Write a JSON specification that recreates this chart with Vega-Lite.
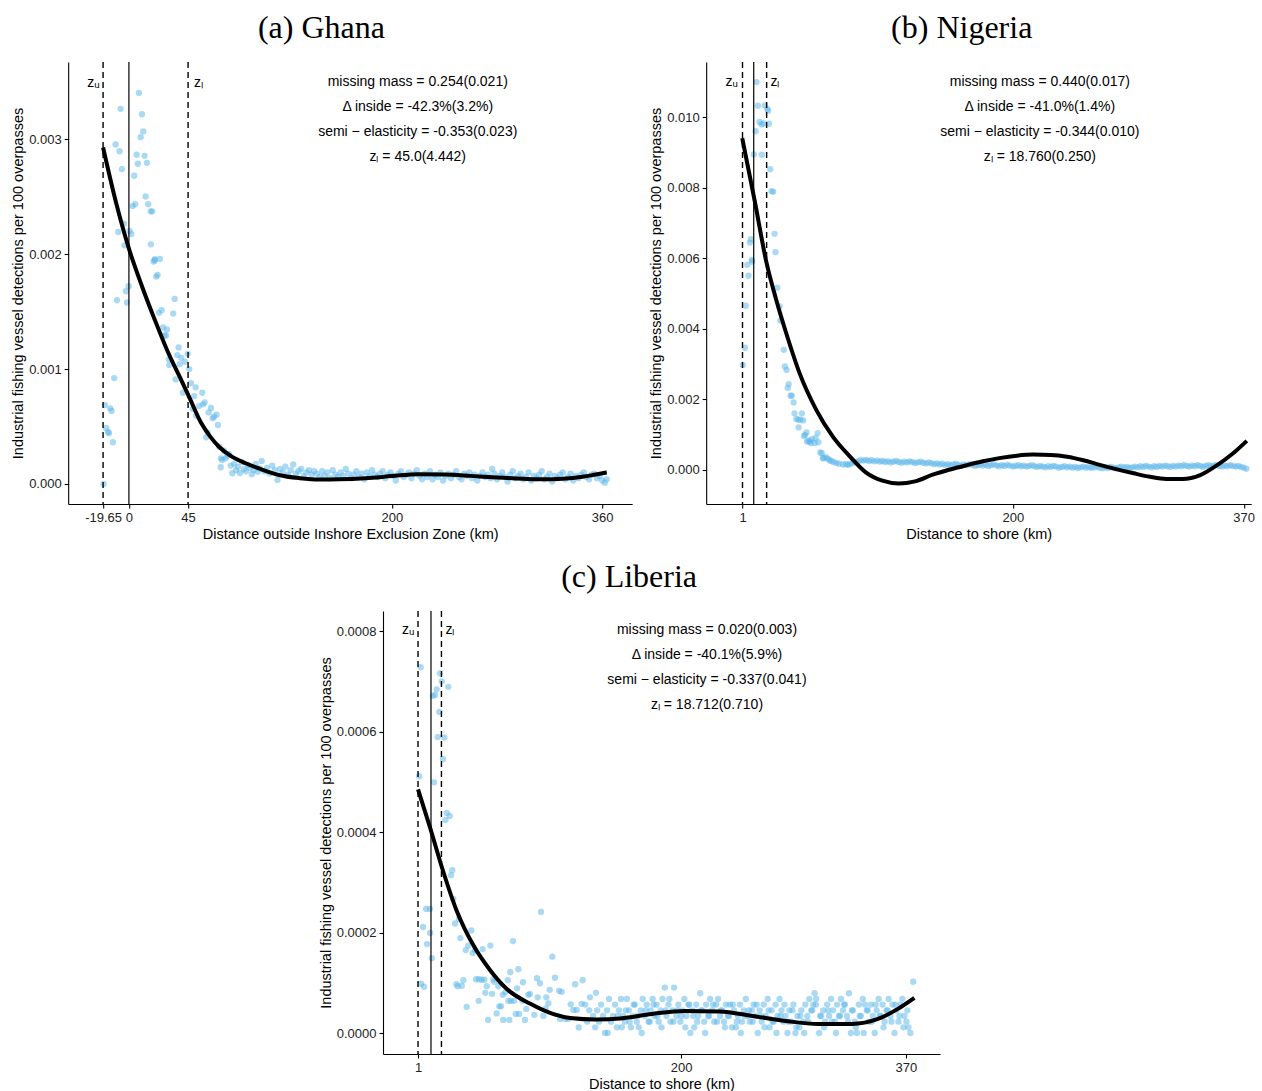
{
  "$schema": "https://vega.github.io/schema/vega-lite/v6.json",
  "background": "white",
  "padding": {"left": 10, "top": 12, "right": 4, "bottom": 2},
  "config": {
    "view": {"stroke": null},
    "font": "Liberation Sans",
    "axis": {"grid": false, "domainColor": "black", "domainWidth": 1.1, "tickColor": "black", "tickWidth": 1.1, "tickSize": 4, "labelFont": "Liberation Sans", "labelFontSize": 13, "labelColor": "#222222", "labelPadding": 3, "titleFont": "Liberation Sans", "titleFontSize": 14.5, "titleFontWeight": "normal", "titleColor": "black", "labelOverlap": false, "labelFlush": false},
    "axisX": {"titlePadding": 3},
    "axisY": {"titlePadding": 3},
    "title": {"font": "Liberation Serif", "fontSize": 32, "fontWeight": "normal", "color": "black", "anchor": "middle", "frame": "bounds", "offset": 16}
  },
  "datasets": {
    "ghanaPts": [
      {"km":-19.3,"rate":0},{"km":-18.3,"rate":0.000687},{"km":-17.3,"rate":0.000487},{"km":-15.8,"rate":0.000452},{"km":-15.2,"rate":0.000441},{"km":-14.2,"rate":0.000658},{"km":-13.2,"rate":0.000635},{"km":-12.2,"rate":0.000363},{"km":-11.2,"rate":0.000922},{"km":-10.1,"rate":0.002957},{"km":-9.1,"rate":0.0016},{"km":-8.1,"rate":0.002194},{"km":-7.1,"rate":0.002898},{"km":-6.3,"rate":0.003267},{"km":-5.3,"rate":0.002742},{"km":-3.8,"rate":0.002267},{"km":-3.3,"rate":0.002078},{"km":-2.3,"rate":0.001678},{"km":-1.5,"rate":0.00158},{"km":-0.2,"rate":0.001722},
      {"km":0.5,"rate":0.002203},{"km":1.8,"rate":0.002177},{"km":2.8,"rate":0.00242},{"km":4.0,"rate":0.002684},{"km":4.8,"rate":0.002437},{"km":5.9,"rate":0.002867},{"km":6.8,"rate":0.002789},{"km":7.6,"rate":0.003406},{"km":8.9,"rate":0.00302},{"km":9.9,"rate":0.00322},{"km":10.9,"rate":0.00307},{"km":11.9,"rate":0.002858},{"km":12.7,"rate":0.002504},{"km":13.7,"rate":0.002797},{"km":14.7,"rate":0.002437},{"km":16.5,"rate":0.002374},{"km":16.7,"rate":0.002087},{"km":17.7,"rate":0.002374},{"km":18.8,"rate":0.001937},{"km":19.6,"rate":0.001948},
      {"km":19.8,"rate":0.001957},{"km":20.8,"rate":0.001806},{"km":21.8,"rate":0.00182},{"km":22.8,"rate":0.00149},{"km":23.6,"rate":0.001959},{"km":24.9,"rate":0.001513},{"km":25.9,"rate":0.001363},{"km":26.9,"rate":0.001293},{"km":28.2,"rate":0.001293},{"km":28.9,"rate":0.001345},{"km":30.4,"rate":0.001084},{"km":30.7,"rate":0.001035},{"km":33.7,"rate":0.001484},{"km":34.8,"rate":0.001611},{"km":35.5,"rate":0.00091},{"km":36.8,"rate":0.001122},{"km":37.8,"rate":0.001189},{"km":38.6,"rate":0.001043},{"km":39.8,"rate":0.001098},{"km":41.1,"rate":0.000794},
      {"km":42.6,"rate":0.001063},{"km":44.7,"rate":0.001133},{"km":45.9,"rate":0.001},{"km":47.2,"rate":0.000878},{"km":48.5,"rate":0.000652},{"km":49.7,"rate":0.000765},{"km":50.8,"rate":0.000841},{"km":51.2,"rate":0.000594},{"km":53.3,"rate":0.000678},{"km":55.8,"rate":0.000794},{"km":56.3,"rate":0.000693},{"km":57.6,"rate":0.00071},{"km":58.8,"rate":0.000406},{"km":59.9,"rate":0.000446},{"km":60.6,"rate":0.000623},{"km":62.4,"rate":0.000661},{"km":63.7,"rate":0.000571},{"km":64.7,"rate":0.000585},{"km":66.7,"rate":0.000603},{"km":67.7,"rate":0.000513},
      {"km":68.7,"rate":0.000324},{"km":69.8,"rate":0.000145},{"km":70.0,"rate":0.000223},{"km":71.0,"rate":0.000209},{"km":72.3,"rate":0.00029},{"km":73.6,"rate":0.000223},{"km":74.6,"rate":0.000243},{"km":76.1,"rate":0.000261},{"km":77.4,"rate":0.00016},{"km":78.6,"rate":0.000093},
      {"km":80,"rate":0.000175},{"km":81.5,"rate":0.00012},{"km":83,"rate":0.00015},{"km":84.5,"rate":0.000095},{"km":86,"rate":0.00019},{"km":87.5,"rate":0.00013},{"km":89,"rate":0.00011},{"km":90.5,"rate":0.000165},{"km":92,"rate":0.00014},{"km":93.5,"rate":0.000085},{"km":95,"rate":0.00012},{"km":96.5,"rate":0.000175},{"km":98,"rate":0.000105},{"km":99.5,"rate":0.000135},
      {"km":101,"rate":0.0002},{"km":103,"rate":0.00011},{"km":105,"rate":0.00014},{"km":107,"rate":0.00009},{"km":109,"rate":0.00016},{"km":111,"rate":0.00012},{"km":113,"rate":0.000035},{"km":115,"rate":0.00013},{"km":117,"rate":0.0001},{"km":119,"rate":0.00015},{"km":121,"rate":0.00008},{"km":123,"rate":0.00012},{"km":125,"rate":0.00017},{"km":127,"rate":0.00009},{"km":129,"rate":0.00011},{"km":131,"rate":0.00013},{"km":133,"rate":0.00007},{"km":135,"rate":0.0001},{"km":137,"rate":0.00012},{"km":139,"rate":0.00008},{"km":141,"rate":0.00011},
      {"km":143,"rate":0.00009},{"km":145,"rate":0.00006},{"km":147,"rate":0.00011},{"km":149,"rate":0.00007},{"km":151,"rate":0.0001},{"km":153,"rate":0.00005},{"km":155,"rate":0.00012},{"km":157,"rate":0.00008},{"km":159,"rate":0.00006},{"km":161,"rate":0.0001},{"km":163,"rate":0.00007},{"km":165,"rate":0.00013},{"km":167,"rate":0.00009},{"km":169,"rate":0.00005},{"km":171,"rate":0.00008},{"km":173,"rate":0.00011},{"km":175,"rate":0.00006},{"km":177,"rate":0.00009},{"km":179,"rate":0.00004},{"km":181,"rate":0.0001},
      {"km":183,"rate":0.00007},{"km":185,"rate":0.00012},{"km":187,"rate":0.00008},{"km":189,"rate":0.00006},{"km":191,"rate":0.00009},{"km":193,"rate":0.00011},{"km":195,"rate":0.00005},{"km":197,"rate":0.00008},{"km":199,"rate":0.0001},{"km":201,"rate":0.00007},{"km":203,"rate":0.00003},{"km":205,"rate":0.00009},{"km":207,"rate":0.00011},{"km":209,"rate":0.00006},{"km":211,"rate":0.00008},{"km":213,"rate":0.0001},{"km":215,"rate":0.00005},{"km":217,"rate":0.00009},{"km":219,"rate":0.00012},{"km":221,"rate":0.00007},{"km":223,"rate":0.00004},
      {"km":225,"rate":0.00009},{"km":227,"rate":0.00006},{"km":229,"rate":0.00011},{"km":231,"rate":0.00004},{"km":233,"rate":0.00008},{"km":235,"rate":0.00006},{"km":237,"rate":0.0001},{"km":239,"rate":0.00003},{"km":241,"rate":0.00007},{"km":243,"rate":0.00009},{"km":245,"rate":0.00005},{"km":247,"rate":0.00008},{"km":249,"rate":0.00011},{"km":251,"rate":0.00006},{"km":253,"rate":0.00004},{"km":255,"rate":0.00009},{"km":257,"rate":0.00007},{"km":259,"rate":0.0001},{"km":261,"rate":0.00005},{"km":263,"rate":0.00008},
      {"km":265,"rate":0.00003},{"km":267,"rate":0.00007},{"km":269,"rate":0.0001},{"km":271,"rate":0.00006},{"km":273,"rate":0.00008},{"km":275,"rate":0.00005},{"km":276.3,"rate":0.00013},{"km":278,"rate":0.00009},{"km":280,"rate":0.00004},{"km":282,"rate":0.00007},{"km":284,"rate":0.0001},{"km":286,"rate":0.00006},{"km":288,"rate":0.00002},{"km":290,"rate":0.00008},{"km":292,"rate":0.00011},{"km":294,"rate":0.00005},{"km":296,"rate":0.00007},{"km":298,"rate":0.00009},{"km":300,"rate":0.00004},{"km":302,"rate":0.00006},
      {"km":304,"rate":0.0001},{"km":306,"rate":0.00003},{"km":308,"rate":0.00007},{"km":310,"rate":0.00005},{"km":312,"rate":0.00008},{"km":314,"rate":0.00011},{"km":316,"rate":0.00004},{"km":318,"rate":0.00006},{"km":320,"rate":0.00009},{"km":322,"rate":0.00002},{"km":324,"rate":0.00007},{"km":326,"rate":0.00005},{"km":328,"rate":0.00008},{"km":330,"rate":0.0001},{"km":332,"rate":0.00004},{"km":334,"rate":0.00006},{"km":336,"rate":0.00009},{"km":338,"rate":0.00003},{"km":340,"rate":0.00007},{"km":342,"rate":0.00005},
      {"km":344,"rate":0.00008},{"km":346,"rate":0.0001},{"km":348,"rate":0.00006},{"km":350,"rate":0.00004},{"km":352,"rate":0.00008},{"km":354,"rate":0.00009},{"km":356,"rate":0.00005},{"km":358,"rate":0.00007},{"km":360,"rate":0.00003},{"km":362,"rate":0.00001},{"km":363.5,"rate":0.00004}
    ],
    "ghanaFit": [
      {"km":-19.65,"rate":0.00293},{"km":-10,"rate":0.00246},{"km":0,"rate":0.00205},{"km":10,"rate":0.00172},{"km":20,"rate":0.00142},{"km":30,"rate":0.00114},{"km":40,"rate":0.0009},{"km":45.7,"rate":0.00076},{"km":55,"rate":0.00053},{"km":62,"rate":0.00041},{"km":68.5,"rate":0.000324},{"km":78,"rate":0.00024},{"km":88.8,"rate":0.00018},{"km":100,"rate":0.00013},{"km":114,"rate":0.000078},{"km":130,"rate":0.00005},{"km":145,"rate":0.000038},{"km":160,"rate":0.00004},{"km":180,"rate":0.00005},{"km":200,"rate":0.000068},{"km":220,"rate":0.000085},{"km":240,"rate":0.000082},{"km":260,"rate":0.00007},{"km":280,"rate":0.000056},{"km":300,"rate":0.000045},{"km":315,"rate":0.00004},{"km":330,"rate":0.000045},{"km":345,"rate":0.000062},{"km":355,"rate":0.000082},{"km":363.5,"rate":0.0001}
    ],
    "ghanaCuts": [{"km":-19.65,"kind":"bound"},{"km":0,"kind":"zone"},{"km":45,"kind":"bound"}],
    "ghanaTags": [{"km":-31.7,"rate":0.003461,"label":"zᵤ"},{"km":49.5,"rate":0.003461,"label":"zₗ"}],
    "ghanaNotes": [
      {"km":219.7,"rate":0.003498,"label":"missing mass = 0.254(0.021)"},
      {"km":219.7,"rate":0.003281,"label":"Δ inside = -42.3%(3.2%)"},
      {"km":219.7,"rate":0.003063,"label":"semi − elasticity = -0.353(0.023)"},
      {"km":219.7,"rate":0.002846,"label":"zₗ = 45.0(4.442)"}
    ],
    "nigeriaPts": [
      {"km":1.2,"rate":0.00297},{"km":2.7,"rate":0.00346},{"km":3.4,"rate":0.00465},{"km":4.5,"rate":0.00581},{"km":5.4,"rate":0.0055},{"km":6.4,"rate":0.00644},{"km":7.1,"rate":0.00654},{"km":7.9,"rate":0.00595},{"km":8.1,"rate":0.0059},{"km":9.3,"rate":0.00894},{"km":10.6,"rate":0.0096},{"km":11.3,"rate":0.01099},{"km":12.3,"rate":0.01032},{"km":13.5,"rate":0.00986},{"km":15.0,"rate":0.00979},{"km":15.2,"rate":0.00893},{"km":16.5,"rate":0.00982},{"km":17.4,"rate":0.01033},{"km":19.2,"rate":0.01023},{"km":19.9,"rate":0.01018},
      {"km":20.4,"rate":0.00981},{"km":21.4,"rate":0.00852},{"km":22.4,"rate":0.0079},{"km":23.6,"rate":0.00788},{"km":24.6,"rate":0.00669},{"km":25.3,"rate":0.00617},{"km":26.6,"rate":0.00516},{"km":28.3,"rate":0.00463},{"km":28.8,"rate":0.00423},{"km":31.4,"rate":0.0034},{"km":32.2,"rate":0.00293},{"km":33.4,"rate":0.00283},{"km":34.3,"rate":0.00232},{"km":35.0,"rate":0.00243},{"km":36.4,"rate":0.0021},{"km":37.3,"rate":0.0021},{"km":38.6,"rate":0.00191},{"km":39.3,"rate":0.0016},{"km":40.6,"rate":0.00144},{"km":42.0,"rate":0.00142},
      {"km":42.3,"rate":0.0012},{"km":43.7,"rate":0.00142},{"km":44.7,"rate":0.0016},{"km":45.7,"rate":0.0014},{"km":46.3,"rate":0.00096},{"km":47.0,"rate":0.00099},{"km":48.1,"rate":0.00106},{"km":48.4,"rate":0.0008},{"km":49.6,"rate":0.00083},{"km":50.4,"rate":0.0008},{"km":51.3,"rate":0.00076},{"km":52.1,"rate":0.00087},{"km":54.1,"rate":0.00076},{"km":54.8,"rate":0.0009},{"km":56.3,"rate":0.00104},{"km":56.8,"rate":0.00078},{"km":58.3,"rate":0.00049},{"km":59.4,"rate":0.00047},{"km":60.2,"rate":0.00033},{"km":60.7,"rate":0.00033},
      {"km":62.5,"rate":0.00036},{"km":63.9,"rate":0.00031},{"km":65.0,"rate":0.00027},{"km":66.4,"rate":0.00025},{"km":68.0,"rate":0.00022},{"km":70.1,"rate":0.00019},{"km":72.0,"rate":0.00017},{"km":74.9,"rate":0.00015},{"km":77.0,"rate":0.00016},{"km":78.5,"rate":0.00014},
      {"km":80,"rate":0.00016},{"km":82,"rate":0.00019},{"km":84,"rate":0.00022},{"km":86,"rate":0.00024},{"km":88,"rate":0.00027},{"km":90,"rate":0.00026},{"km":92,"rate":0.00028},{"km":94,"rate":0.00025},{"km":96,"rate":0.00027},{"km":98,"rate":0.00024},{"km":100,"rate":0.00026},{"km":102,"rate":0.00023},{"km":104,"rate":0.00025},{"km":106,"rate":0.00022},{"km":108,"rate":0.00024},{"km":110,"rate":0.00021},{"km":112,"rate":0.00023},{"km":114,"rate":0.00025},{"km":116,"rate":0.00022},{"km":118,"rate":0.0002},
      {"km":120,"rate":0.00023},{"km":122,"rate":0.00021},{"km":124,"rate":0.00024},{"km":126,"rate":0.00022},{"km":128,"rate":0.00019},{"km":130,"rate":0.00021},{"km":132,"rate":0.00023},{"km":134,"rate":0.0002},{"km":136,"rate":0.00018},{"km":138,"rate":0.00021},{"km":140,"rate":0.00019},{"km":142,"rate":0.00016},{"km":144,"rate":0.00018},{"km":146,"rate":0.00015},{"km":148,"rate":0.00017},{"km":150,"rate":0.00014},{"km":152,"rate":0.00016},{"km":154,"rate":0.00013},{"km":156,"rate":0.00015},{"km":158,"rate":0.00017},
      {"km":160,"rate":0.00014},{"km":162,"rate":0.00012},{"km":164,"rate":0.00015},{"km":166,"rate":0.00013},{"km":168,"rate":0.00016},{"km":170,"rate":0.00014},{"km":172,"rate":0.00011},{"km":174,"rate":0.00013},{"km":176,"rate":0.00015},{"km":178,"rate":0.00012},{"km":180,"rate":0.00014},{"km":182,"rate":0.00011},{"km":184,"rate":0.00013},{"km":186,"rate":0.00016},{"km":188,"rate":0.00012},{"km":190,"rate":0.0001},{"km":192,"rate":0.00013},{"km":194,"rate":0.00011},{"km":196,"rate":0.00014},{"km":198,"rate":0.00012},
      {"km":200,"rate":0.00009},{"km":202,"rate":0.00011},{"km":204,"rate":0.00013},{"km":206,"rate":0.0001},{"km":208,"rate":0.00012},{"km":210,"rate":0.00009},{"km":212,"rate":0.00011},{"km":214,"rate":0.00013},{"km":216,"rate":0.0001},{"km":218,"rate":0.00008},{"km":220,"rate":0.00011},{"km":222,"rate":0.00009},{"km":224,"rate":0.00007},{"km":226,"rate":0.0001},{"km":228,"rate":0.00008},{"km":230,"rate":0.00011},{"km":232,"rate":0.00009},{"km":234,"rate":0.00006},{"km":236,"rate":0.00008},{"km":238,"rate":0.0001},
      {"km":240,"rate":0.00007},{"km":242,"rate":0.00009},{"km":244,"rate":0.00006},{"km":246,"rate":0.00008},{"km":248,"rate":0.00005},{"km":250,"rate":0.00007},{"km":252,"rate":0.00009},{"km":254,"rate":0.00006},{"km":256,"rate":0.00008},{"km":258,"rate":0.00005},{"km":260,"rate":0.00007},{"km":262,"rate":0.00009},{"km":264,"rate":0.00006},{"km":266,"rate":0.00004},{"km":268,"rate":0.00007},{"km":270,"rate":0.00005},{"km":272,"rate":0.00008},{"km":274,"rate":0.00006},{"km":276,"rate":0.00004},{"km":278,"rate":0.00007},
      {"km":280,"rate":0.00009},{"km":282,"rate":0.00006},{"km":284,"rate":0.00008},{"km":286,"rate":0.00005},{"km":288,"rate":0.00007},{"km":290,"rate":0.00009},{"km":292,"rate":0.00007},{"km":294,"rate":0.0001},{"km":296,"rate":0.00008},{"km":298,"rate":0.00011},{"km":300,"rate":0.00009},{"km":302,"rate":0.00007},{"km":304,"rate":0.0001},{"km":306,"rate":0.00008},{"km":308,"rate":0.00011},{"km":310,"rate":0.00009},{"km":312,"rate":0.00012},{"km":314,"rate":0.0001},{"km":316,"rate":0.00008},{"km":318,"rate":0.00011},
      {"km":320,"rate":0.00009},{"km":322,"rate":0.00012},{"km":324,"rate":0.0001},{"km":326,"rate":0.00013},{"km":328,"rate":0.00011},{"km":330,"rate":0.00009},{"km":332,"rate":0.00012},{"km":334,"rate":0.0001},{"km":336,"rate":0.00013},{"km":338,"rate":0.00011},{"km":340,"rate":0.00008},{"km":342,"rate":0.00011},{"km":344,"rate":0.00013},{"km":346,"rate":0.0001},{"km":348,"rate":0.00012},{"km":350,"rate":0.00014},{"km":352,"rate":0.00011},{"km":354,"rate":0.00009},{"km":356,"rate":0.00012},{"km":358,"rate":0.0001},
      {"km":360,"rate":0.00013},{"km":362,"rate":0.00011},{"km":364,"rate":0.00009},{"km":366,"rate":0.00011},{"km":368,"rate":0.00008},{"km":370,"rate":0.00006},{"km":372,"rate":0.00003}
    ],
    "nigeriaFit": [
      {"km":0.8,"rate":0.0094},{"km":10,"rate":0.00762},{"km":18.5,"rate":0.0059},{"km":25.8,"rate":0.00482},{"km":33.2,"rate":0.00387},{"km":43,"rate":0.00274},{"km":55.3,"rate":0.0017},{"km":67.5,"rate":0.00094},{"km":80,"rate":0.00038},{"km":92,"rate":-0.00008},{"km":104,"rate":-0.00031},{"km":116,"rate":-0.00039},{"km":128,"rate":-0.00033},{"km":141,"rate":-0.00014},{"km":153,"rate":0.0},{"km":166,"rate":0.00013},{"km":178,"rate":0.00024},{"km":190,"rate":0.00033},{"km":203,"rate":0.0004},{"km":215,"rate":0.00043},
      {"km":228,"rate":0.00042},{"km":240,"rate":0.00037},{"km":252,"rate":0.00027},{"km":264,"rate":0.00014},{"km":276,"rate":0.00002},{"km":289,"rate":-0.0001},{"km":301,"rate":-0.0002},{"km":313,"rate":-0.00026},{"km":325,"rate":-0.00026},{"km":338,"rate":-0.00015},{"km":350,"rate":0.00012},{"km":362,"rate":0.00046},{"km":372.3,"rate":0.00082}
    ],
    "nigeriaCuts": [{"km":1,"kind":"bound"},{"km":9.26,"kind":"zone"},{"km":18.76,"kind":"bound"}],
    "nigeriaTags": [{"km":-11.5,"rate":0.010887,"label":"zᵤ"},{"km":21.6,"rate":0.010887,"label":"zₗ"}],
    "nigeriaNotes": [
      {"km":219.9,"rate":0.0110,"label":"missing mass = 0.440(0.017)"},
      {"km":219.9,"rate":0.01029,"label":"Δ inside = -41.0%(1.4%)"},
      {"km":219.9,"rate":0.00958,"label":"semi − elasticity = -0.344(0.010)"},
      {"km":219.9,"rate":0.00888,"label":"zₗ = 18.760(0.250)"}
    ],
    "liberiaPts": [
      {"km":1.8,"rate":0.000511},{"km":3.0,"rate":0.000728},{"km":3.3,"rate":0.000098},{"km":4.8,"rate":0.000211},{"km":5.5,"rate":0.000092},{"km":7.1,"rate":0.000247},{"km":7.8,"rate":0.000177},{"km":10.1,"rate":0.000247},{"km":10.2,"rate":0.000199},{"km":11.4,"rate":0.000149},{"km":12.1,"rate":0.000671},{"km":13.1,"rate":0.000499},{"km":13.9,"rate":0.000673},{"km":15.1,"rate":0.000684},{"km":15.9,"rate":0.000589},{"km":17.1,"rate":0.000639},{"km":17.6,"rate":0.000716},{"km":18.9,"rate":0.0007},{"km":19.9,"rate":0.000545},{"km":20.9,"rate":0.000588},
      {"km":21.7,"rate":0.000424},{"km":22.7,"rate":0.000438},{"km":23.9,"rate":0.000689},{"km":25.0,"rate":0.000432},{"km":26.0,"rate":0.000314},{"km":26.9,"rate":0.000324},{"km":27.7,"rate":0.000267},{"km":29.0,"rate":0.000218},{"km":30.0,"rate":0.000097},{"km":31.0,"rate":0.000093},{"km":32.0,"rate":0.000227},{"km":33.0,"rate":0.000189},{"km":34.1,"rate":0.000094},{"km":35.3,"rate":0.000105},{"km":37.1,"rate":0.000165},{"km":37.8,"rate":0.000052},{"km":39.0,"rate":0.000174},{"km":41.3,"rate":0.000204},{"km":42.4,"rate":0.000159},{"km":44.1,"rate":0.000165},
      {"km":44.9,"rate":0.000107},{"km":46.9,"rate":0.000064},{"km":47.1,"rate":0.000107},{"km":49.2,"rate":0.000106},{"km":49.9,"rate":0.000167},{"km":51.2,"rate":0.000106},{"km":51.9,"rate":0.00008},{"km":53.0,"rate":0.000093},{"km":54.0,"rate":0.000026},{"km":55.7,"rate":0.000174},{"km":57.0,"rate":0.000078},{"km":58.0,"rate":0.000107},{"km":58.7,"rate":0.000102},{"km":60.5,"rate":0.000039},{"km":61.7,"rate":0.000093},{"km":62.5,"rate":0.000053},{"km":63.8,"rate":0.000053},{"km":65.1,"rate":0.000076},{"km":65.5,"rate":0.000026},{"km":67.0,"rate":0.000081},
      {"km":68.9,"rate":0.000105},{"km":69.4,"rate":0.000064},{"km":70.1,"rate":0.000026},{"km":70.8,"rate":0.000121},{"km":71.3,"rate":0.000064},{"km":72.9,"rate":0.000183},{"km":73.6,"rate":0.000064},{"km":74.9,"rate":0.000038},{"km":75.9,"rate":0.000089},{"km":76.9,"rate":0.000127},{"km":77.4,"rate":0.000038},{"km":79.9,"rate":0.000064},{"km":80.4,"rate":0.000101},{"km":81.9,"rate":0.000026},{"km":82.9,"rate":0.000048},{"km":84.4,"rate":0.000076},{"km":85.7,"rate":0.000078},{"km":89.0,"rate":0.000036},{"km":91.0,"rate":0.000109},{"km":91.5,"rate":0.000071},
      {"km":93.3,"rate":0.000099},{"km":94.0,"rate":0.000241},{"km":95.8,"rate":0.000034},{"km":97.6,"rate":0.000049},{"km":98.0,"rate":0.000071},{"km":99.6,"rate":0.000059},{"km":100.6,"rate":0.000086},{"km":102.6,"rate":0.000152},{"km":104.6,"rate":0.00011},{"km":107.7,"rate":0.000084},{"km":108.4,"rate":0.000028},{"km":109.7,"rate":0.000082},{"km":112.2,"rate":0.000028},{"km":114.7,"rate":0.000028},{"km":116.5,"rate":0.000057},{"km":118.5,"rate":0.000046},{"km":119.8,"rate":0.000097},{"km":121.0,"rate":0.000046},{"km":122.6,"rate":0.000011},{"km":124.8,"rate":0.000058},
      {"km":125.6,"rate":0.000105},{"km":127.5,"rate":0.0000565},{"km":129,"rate":0.0000226},{"km":130.5,"rate":0.0000452},{"km":131.1,"rate":0.000071},{"km":133.5,"rate":0.0000339},{"km":135,"rate":0.0000113},{"km":135.6,"rate":0.00008},{"km":136.5,"rate":0.0000452},{"km":138,"rate":0.0000226},{"km":139.5,"rate":0.0000565},{"km":141,"rate":0.0000339},{"km":142.5,"rate":0},{"km":144,"rate":0.0000452},{"km":144.5,"rate":0},{"km":145.5,"rate":0.0000678},{"km":147,"rate":0.0000226},{"km":148.5,"rate":0.0000339},{"km":150,"rate":0.0000565},{"km":151.5,"rate":0.0000113},
      {"km":153,"rate":0.0000452},{"km":154.5,"rate":0.0000678},{"km":156,"rate":0.0000339},{"km":157.5,"rate":0.0000226},{"km":159,"rate":0.0000678},{"km":160.5,"rate":0.0000452},{"km":162,"rate":0.0000113},{"km":163.5,"rate":0.0000339},{"km":165,"rate":0.0000565},{"km":166.5,"rate":0.0000226},{"km":168,"rate":0.0000113},{"km":169.5,"rate":0.0000452},{"km":171,"rate":0.0000678},{"km":172.5,"rate":0.0000339},{"km":174,"rate":0.0000565},{"km":175.5,"rate":0.0000226},{"km":177,"rate":0.0000452},{"km":178.5,"rate":0.0000678},{"km":180,"rate":0.0000339},{"km":181.5,"rate":0.0000565},
      {"km":183,"rate":0.0000226},{"km":184.5,"rate":0.0000452},{"km":186,"rate":0.0000678},{"km":187.7,"rate":0.0000904},{"km":189,"rate":0.0000339},{"km":190.5,"rate":0.0000565},{"km":192,"rate":0.0000226},{"km":193.5,"rate":0.0000452},{"km":194.7,"rate":0.0000904},{"km":196.5,"rate":0.0000339},{"km":198,"rate":0.0000565},{"km":199.5,"rate":0.0000226},{"km":201,"rate":0.0000452},{"km":202.5,"rate":0.0000678},{"km":204,"rate":0.0000339},{"km":205.5,"rate":0.0000565},{"km":207,"rate":0},{"km":208.5,"rate":0.0000452},{"km":210,"rate":0.0000113},{"km":211.5,"rate":0.0000565},
      {"km":213,"rate":0.0000339},{"km":214.5,"rate":0.0000791},{"km":216,"rate":0.0000452},{"km":217.5,"rate":0.0000226},{"km":219,"rate":0.0000565},{"km":220.5,"rate":0.0000339},{"km":222,"rate":0.0000678},{"km":223.5,"rate":0.0000452},{"km":225,"rate":0.0000226},{"km":226.5,"rate":0.0000565},{"km":228,"rate":0.0000678},{"km":229.5,"rate":0.0000339},{"km":231,"rate":0.0000452},{"km":232.5,"rate":0.0000226},{"km":234,"rate":0.0000565},{"km":235.5,"rate":0.0000339},{"km":237,"rate":0.0000565},{"km":238.5,"rate":0.0000113},{"km":240,"rate":0.0000452},{"km":241.5,"rate":0.0000113},
      {"km":243,"rate":0.0000339},{"km":244.5,"rate":0.0000565},{"km":246,"rate":0.0000226},{"km":247.5,"rate":0.0000452},{"km":249,"rate":0.0000678},{"km":250.5,"rate":0.0000339},{"km":252,"rate":0.0000226},{"km":253.5,"rate":0.0000452},{"km":255,"rate":0.0000565},{"km":256.5,"rate":0.0000339},{"km":258,"rate":0},{"km":259.5,"rate":0.0000452},{"km":261,"rate":0.0000226},{"km":262.5,"rate":0.0000565},{"km":264,"rate":0.0000339},{"km":265.5,"rate":0.0000678},{"km":267,"rate":0.0000113},{"km":268.5,"rate":0.0000452},{"km":270,"rate":0.0000226},{"km":271.5,"rate":0.0000565},
      {"km":273,"rate":0.0000339},{"km":274.5,"rate":0.0000678},{"km":276,"rate":0.0000452},{"km":277.5,"rate":0.0000226},{"km":279,"rate":0.0000339},{"km":280.5,"rate":0},{"km":282,"rate":0.0000452},{"km":283.5,"rate":0.0000226},{"km":285,"rate":0.0000565},{"km":286.5,"rate":0},{"km":288,"rate":0.0000339},{"km":289.5,"rate":0.0000113},{"km":291,"rate":0.0000452},{"km":292.5,"rate":0.0000226},{"km":294,"rate":0.0000565},{"km":295.5,"rate":0.0000339},{"km":297,"rate":0.0000678},{"km":298.5,"rate":0.0000452},{"km":300,"rate":0.0000565},{"km":301,"rate":0.0000791},
      {"km":302,"rate":0.0000565},{"km":304.5,"rate":0},{"km":306,"rate":0.0000339},{"km":307.5,"rate":0.0000452},{"km":309,"rate":0.0000226},{"km":310.5,"rate":0.0000565},{"km":312,"rate":0.0000339},{"km":313.5,"rate":0.0000678},{"km":315,"rate":0.0000452},{"km":316.5,"rate":0.0000226},{"km":318,"rate":0.0000565},{"km":319.5,"rate":0.0000339},{"km":321,"rate":0.0000678},{"km":322.5,"rate":0.0000452},{"km":324,"rate":0.0000565},{"km":325.5,"rate":0.0000339},{"km":327,"rate":0.0000791},{"km":328.5,"rate":0},{"km":330,"rate":0.0000452},{"km":331.5,"rate":0.0000226},
      {"km":333,"rate":0},{"km":334.5,"rate":0.0000565},{"km":336,"rate":0.0000339},{"km":337.5,"rate":0.0000678},{"km":339,"rate":0.0000565},{"km":340.5,"rate":0.0000452},{"km":342,"rate":0.0000226},{"km":343.5,"rate":0.0000565},{"km":345,"rate":0.0000339},{"km":346.5,"rate":0},{"km":348,"rate":0.0000452},{"km":349.5,"rate":0.0000678},{"km":351,"rate":0.0000339},{"km":352.5,"rate":0.0000565},{"km":354,"rate":0.0000226},{"km":355.5,"rate":0.0000452},{"km":357,"rate":0.0000678},{"km":358.5,"rate":0.0000339},{"km":360,"rate":0.0000565},{"km":361.5,"rate":0},
      {"km":363,"rate":0.0000452},{"km":364.5,"rate":0.0000226},{"km":366,"rate":0.0000565},{"km":367.5,"rate":0.0000678},{"km":369,"rate":0.0000339},{"km":370.5,"rate":0.0000226},{"km":372,"rate":0.0000113},{"km":373.5,"rate":0},{"km":375.6,"rate":0.000102},
      {"km":152.2,"rate":0.0000339},{"km":155.2,"rate":0.0000113},{"km":158.2,"rate":0.0000452},{"km":161.2,"rate":0.0000226},{"km":164.2,"rate":0.0000565},{"km":167.2,"rate":0.0000339},{"km":170.2,"rate":0},{"km":173.2,"rate":0.0000452},{"km":176.2,"rate":0.0000226},{"km":179.2,"rate":0.0000565},{"km":182.2,"rate":0.0000339},{"km":185.2,"rate":0.0000113},{"km":188.2,"rate":0.0000452},{"km":191.2,"rate":0.0000678},{"km":194.2,"rate":0.0000226},{"km":197.2,"rate":0.0000452},{"km":200.2,"rate":0.0000339},{"km":203.2,"rate":0.0000113},{"km":206.2,"rate":0.0000565},{"km":209.2,"rate":0.0000339},
      {"km":212.2,"rate":0.0000226},{"km":215.2,"rate":0.0000452},{"km":218.2,"rate":0},{"km":221.2,"rate":0.0000339},{"km":224.2,"rate":0.0000565},{"km":227.2,"rate":0.0000226},{"km":230.2,"rate":0.0000452},{"km":233.2,"rate":0.0000113},{"km":236.2,"rate":0.0000339},{"km":239.2,"rate":0.0000565},{"km":242.2,"rate":0.0000226},{"km":245.2,"rate":0},{"km":248.2,"rate":0.0000339},{"km":251.2,"rate":0.0000452},{"km":254.2,"rate":0.0000226},{"km":257.2,"rate":0.0000565},{"km":260.2,"rate":0.0000339},{"km":263.2,"rate":0.0000113},{"km":266.2,"rate":0.0000452},{"km":269.2,"rate":0.0000226},
      {"km":272.2,"rate":0},{"km":275.2,"rate":0.0000339},{"km":278.2,"rate":0.0000565},{"km":281.2,"rate":0.0000226},{"km":284.2,"rate":0.0000452},{"km":287.2,"rate":0.0000113},{"km":290.2,"rate":0.0000339},{"km":293.2,"rate":0},{"km":296.2,"rate":0.0000226},{"km":299.2,"rate":0.0000452},{"km":302.2,"rate":0.0000678},{"km":305.2,"rate":0.0000339},{"km":308.2,"rate":0.0000113},{"km":311.2,"rate":0.0000452},{"km":314.2,"rate":0.0000226},{"km":317.2,"rate":0},{"km":320.2,"rate":0.0000339},{"km":323.2,"rate":0.0000565},{"km":326.2,"rate":0.0000226},{"km":329.2,"rate":0.0000452},
      {"km":332.2,"rate":0.0000113},{"km":335.2,"rate":0.0000339},{"km":338.2,"rate":0},{"km":341.2,"rate":0.0000452},{"km":344.2,"rate":0.0000226},{"km":347.2,"rate":0.0000565},{"km":350.2,"rate":0.0000339},{"km":353.2,"rate":0.0000113},{"km":356.2,"rate":0.0000452},{"km":359.2,"rate":0.0000226},{"km":362.2,"rate":0.0000565},{"km":365.2,"rate":0.0000339},{"km":368.2,"rate":0.0000113},{"km":371.2,"rate":0.0000452}
    ],
    "liberiaFit": [
      {"km":1,"rate":0.000485},{"km":10,"rate":0.00041},{"km":20,"rate":0.000322},{"km":30,"rate":0.000245},{"km":43,"rate":0.000174},{"km":55,"rate":0.000127},{"km":68,"rate":0.000088},{"km":86,"rate":0.000058},{"km":103,"rate":0.000038},{"km":116,"rate":0.00003},{"km":136,"rate":0.000027},{"km":154,"rate":0.000029},{"km":178,"rate":0.000038},{"km":203,"rate":0.000044},{"km":229,"rate":0.000043},{"km":254,"rate":0.000034},{"km":279,"rate":0.000024},{"km":304,"rate":0.000018},{"km":329,"rate":0.000018},{"km":349,"rate":0.000028},
      {"km":364,"rate":0.000048},{"km":376.5,"rate":0.00007}
    ],
    "liberiaCuts": [{"km":1,"kind":"bound"},{"km":10.8,"kind":"zone"},{"km":18.712,"kind":"bound"}],
    "liberiaTags": [{"km":-11.1,"rate":0.000794,"label":"zᵤ"},{"km":21.7,"rate":0.000794,"label":"zₗ"}],
    "liberiaNotes": [
      {"km":219.6,"rate":0.000802,"label":"missing mass = 0.020(0.003)"},
      {"km":219.6,"rate":0.000752,"label":"Δ inside = -40.1%(5.9%)"},
      {"km":219.6,"rate":0.000702,"label":"semi − elasticity = -0.337(0.041)"},
      {"km":219.6,"rate":0.000653,"label":"zₗ = 18.712(0.710)"}
    ]
  },
  "center": true,
  "spacing": 20,
  "vconcat": [
    {
      "spacing": 16,
      "hconcat": [
        {
          "width": 564, "height": 442,
          "title": {"text": "(a) Ghana"},
          "layer": [
            {"data": {"name": "ghanaPts"}, "mark": {"type": "circle", "size": 40, "color": "#56B4E9", "opacity": 0.5},
             "encoding": {
               "x": {"field": "km", "type": "quantitative", "scale": {"domain": [-46.2, 382.8], "nice": false, "zero": false}, "axis": {"title": "Distance outside Inshore Exclusion Zone (km)", "values": [-19.65, 0, 45, 200, 360], "labelExpr": "datum.value == -19.65 ? '-19.65' : format(datum.value, 'd')"}},
               "y": {"field": "rate", "type": "quantitative", "scale": {"domain": [-0.000175, 0.003675], "nice": false, "zero": false}, "axis": {"title": "Industrial fishing vessel detections per 100 overpasses", "values": [0, 0.001, 0.002, 0.003], "format": ".3f"}}
             }},
            {"data": {"name": "ghanaFit"}, "mark": {"type": "line", "color": "black", "strokeWidth": 4, "interpolate": "monotone"},
             "encoding": {"x": {"field": "km", "type": "quantitative", "scale": {"domain": [-46.2, 382.8], "nice": false, "zero": false}}, "y": {"field": "rate", "type": "quantitative", "scale": {"domain": [-0.000175, 0.003675], "nice": false, "zero": false}}}},
            {"data": {"name": "ghanaCuts"}, "transform": [{"filter": "datum.kind == 'bound'"}], "mark": {"type": "rule", "color": "black", "strokeWidth": 1.4, "strokeDash": [6, 4]},
             "encoding": {"x": {"field": "km", "type": "quantitative", "scale": {"domain": [-46.2, 382.8], "nice": false, "zero": false}}}},
            {"data": {"name": "ghanaCuts"}, "transform": [{"filter": "datum.kind == 'zone'"}], "mark": {"type": "rule", "color": "black", "strokeWidth": 1.2},
             "encoding": {"x": {"field": "km", "type": "quantitative", "scale": {"domain": [-46.2, 382.8], "nice": false, "zero": false}}}},
            {"data": {"name": "ghanaTags"}, "mark": {"type": "text", "font": "Liberation Sans", "fontSize": 14, "align": "left", "baseline": "alphabetic", "color": "black"},
             "encoding": {"x": {"field": "km", "type": "quantitative", "scale": {"domain": [-46.2, 382.8], "nice": false, "zero": false}}, "y": {"field": "rate", "type": "quantitative", "scale": {"domain": [-0.000175, 0.003675], "nice": false, "zero": false}}, "text": {"field": "label"}}},
            {"data": {"name": "ghanaNotes"}, "mark": {"type": "text", "font": "Liberation Sans", "fontSize": 14, "align": "center", "baseline": "middle", "color": "black"},
             "encoding": {"x": {"field": "km", "type": "quantitative", "scale": {"domain": [-46.2, 382.8], "nice": false, "zero": false}}, "y": {"field": "rate", "type": "quantitative", "scale": {"domain": [-0.000175, 0.003675], "nice": false, "zero": false}}, "text": {"field": "label"}}}
          ]
        },
        {
          "width": 545, "height": 442,
          "title": {"text": "(b) Nigeria", "dx": 10},
          "layer": [
            {"data": {"name": "nigeriaPts"}, "mark": {"type": "circle", "size": 40, "color": "#56B4E9", "opacity": 0.5},
             "encoding": {
               "x": {"field": "km", "type": "quantitative", "scale": {"domain": [-25.75, 375.5], "nice": false, "zero": false}, "axis": {"title": "Distance to shore (km)", "values": [1, 200, 370], "format": "d"}},
               "y": {"field": "rate", "type": "quantitative", "scale": {"domain": [-0.00097, 0.01156], "nice": false, "zero": false}, "axis": {"title": "Industrial fishing vessel detections per 100 overpasses", "values": [0, 0.002, 0.004, 0.006, 0.008, 0.01], "format": ".3f"}}
             }},
            {"data": {"name": "nigeriaFit"}, "mark": {"type": "line", "color": "black", "strokeWidth": 4, "interpolate": "monotone"},
             "encoding": {"x": {"field": "km", "type": "quantitative", "scale": {"domain": [-25.75, 375.5], "nice": false, "zero": false}}, "y": {"field": "rate", "type": "quantitative", "scale": {"domain": [-0.00097, 0.01156], "nice": false, "zero": false}}}},
            {"data": {"name": "nigeriaCuts"}, "transform": [{"filter": "datum.kind == 'bound'"}], "mark": {"type": "rule", "color": "black", "strokeWidth": 1.4, "strokeDash": [6, 4]},
             "encoding": {"x": {"field": "km", "type": "quantitative", "scale": {"domain": [-25.75, 375.5], "nice": false, "zero": false}}}},
            {"data": {"name": "nigeriaCuts"}, "transform": [{"filter": "datum.kind == 'zone'"}], "mark": {"type": "rule", "color": "black", "strokeWidth": 1.2},
             "encoding": {"x": {"field": "km", "type": "quantitative", "scale": {"domain": [-25.75, 375.5], "nice": false, "zero": false}}}},
            {"data": {"name": "nigeriaTags"}, "mark": {"type": "text", "font": "Liberation Sans", "fontSize": 14, "align": "left", "baseline": "alphabetic", "color": "black"},
             "encoding": {"x": {"field": "km", "type": "quantitative", "scale": {"domain": [-25.75, 375.5], "nice": false, "zero": false}}, "y": {"field": "rate", "type": "quantitative", "scale": {"domain": [-0.00097, 0.01156], "nice": false, "zero": false}}, "text": {"field": "label"}}},
            {"data": {"name": "nigeriaNotes"}, "mark": {"type": "text", "font": "Liberation Sans", "fontSize": 14, "align": "center", "baseline": "middle", "color": "black"},
             "encoding": {"x": {"field": "km", "type": "quantitative", "scale": {"domain": [-25.75, 375.5], "nice": false, "zero": false}}, "y": {"field": "rate", "type": "quantitative", "scale": {"domain": [-0.00097, 0.01156], "nice": false, "zero": false}}, "text": {"field": "label"}}}
          ]
        }
      ]
    },
    {
      "width": 557, "height": 443,
      "title": {"text": "(c) Liberia"},
      "layer": [
        {"data": {"name": "liberiaPts"}, "mark": {"type": "circle", "size": 40, "color": "#56B4E9", "opacity": 0.5},
         "encoding": {
           "x": {"field": "km", "type": "quantitative", "scale": {"domain": [-25.5, 395.9], "nice": false, "zero": false}, "axis": {"title": "Distance to shore (km)", "values": [1, 200, 370], "format": "d"}},
           "y": {"field": "rate", "type": "quantitative", "scale": {"domain": [-0.0000418, 0.00084], "nice": false, "zero": false}, "axis": {"title": "Industrial fishing vessel detections per 100 overpasses", "values": [0, 0.0002, 0.0004, 0.0006, 0.0008], "format": ".4f"}}
         }},
        {"data": {"name": "liberiaFit"}, "mark": {"type": "line", "color": "black", "strokeWidth": 4, "interpolate": "monotone"},
         "encoding": {"x": {"field": "km", "type": "quantitative", "scale": {"domain": [-25.5, 395.9], "nice": false, "zero": false}}, "y": {"field": "rate", "type": "quantitative", "scale": {"domain": [-0.0000418, 0.00084], "nice": false, "zero": false}}}},
        {"data": {"name": "liberiaCuts"}, "transform": [{"filter": "datum.kind == 'bound'"}], "mark": {"type": "rule", "color": "black", "strokeWidth": 1.4, "strokeDash": [6, 4]},
         "encoding": {"x": {"field": "km", "type": "quantitative", "scale": {"domain": [-25.5, 395.9], "nice": false, "zero": false}}}},
        {"data": {"name": "liberiaCuts"}, "transform": [{"filter": "datum.kind == 'zone'"}], "mark": {"type": "rule", "color": "black", "strokeWidth": 1.2},
         "encoding": {"x": {"field": "km", "type": "quantitative", "scale": {"domain": [-25.5, 395.9], "nice": false, "zero": false}}}},
        {"data": {"name": "liberiaTags"}, "mark": {"type": "text", "font": "Liberation Sans", "fontSize": 14, "align": "left", "baseline": "alphabetic", "color": "black"},
         "encoding": {"x": {"field": "km", "type": "quantitative", "scale": {"domain": [-25.5, 395.9], "nice": false, "zero": false}}, "y": {"field": "rate", "type": "quantitative", "scale": {"domain": [-0.0000418, 0.00084], "nice": false, "zero": false}}, "text": {"field": "label"}}},
        {"data": {"name": "liberiaNotes"}, "mark": {"type": "text", "font": "Liberation Sans", "fontSize": 14, "align": "center", "baseline": "middle", "color": "black"},
         "encoding": {"x": {"field": "km", "type": "quantitative", "scale": {"domain": [-25.5, 395.9], "nice": false, "zero": false}}, "y": {"field": "rate", "type": "quantitative", "scale": {"domain": [-0.0000418, 0.00084], "nice": false, "zero": false}}, "text": {"field": "label"}}}
      ]
    }
  ]
}
